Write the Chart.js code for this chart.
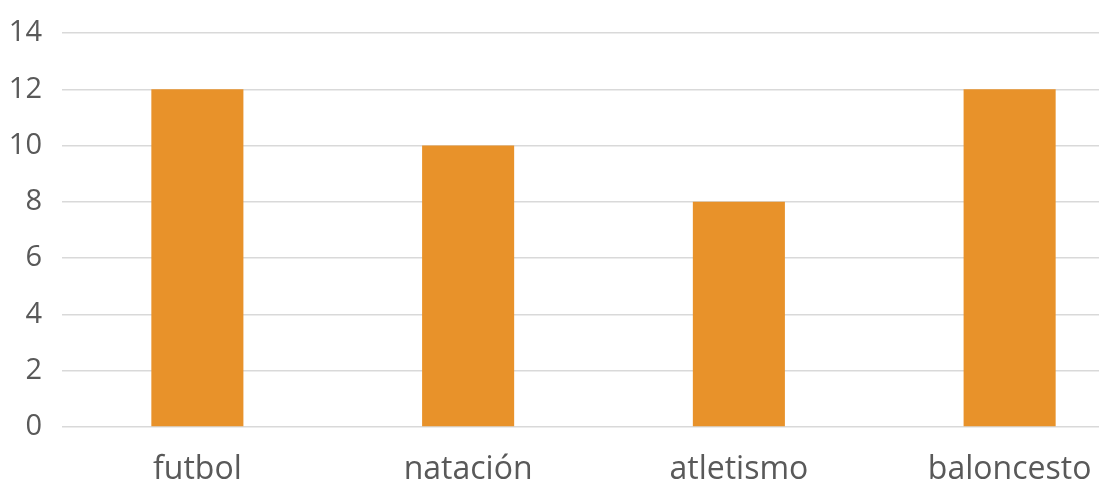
<!DOCTYPE html>
<html>
<head>
<meta charset="utf-8">
<script src="https://cdn.jsdelivr.net/npm/chart.js@4/dist/chart.umd.min.js"></script>
<style>
  html, body { margin: 0; padding: 0; background: #fff; overflow: hidden; }
  #wrap { width: 1145px; height: 485px; }
</style>
</head>
<body>
<div id="wrap"><canvas id="chart"></canvas></div>
<script>
const categories = ['futbol', 'natación', 'atletismo', 'baloncesto'];
const values = [12, 10, 8, 12];
const yTicks = [0, 2, 4, 6, 8, 10, 12, 14];

const FONT = "'Open Sans', sans-serif";

new Chart(document.getElementById('chart').getContext('2d'), {
  type: 'bar',
  data: {
    labels: categories,
    datasets: [{
      data: values,
      backgroundColor: '#E8922A',
      borderWidth: 0,
      barPercentage: 0.34,
      categoryPercentage: 1
    }]
  },
  options: {
    responsive: true,
    maintainAspectRatio: false,
    animation: false,
    layout: { padding: { top: 33, right: 0, left: 0, bottom: 0 } },
    plugins: { legend: { display: false }, tooltip: { enabled: false } },
    scales: {
      x: {
        grid: { display: false },
        border: { display: false },
        ticks: { color: '#595959', font: { family: FONT, size: 32 }, padding: 16, maxRotation: 0 },
        afterFit: (s) => { s.height = 58; }
      },
      y: {
        min: yTicks[0],
        max: yTicks[yTicks.length - 1],
        afterBuildTicks: (s) => { s.ticks = yTicks.map(v => ({ value: v })); },
        grid: { color: '#D9D9D9', lineWidth: 1.5, drawTicks: false },
        border: { display: false },
        ticks: { color: '#595959', font: { family: FONT, size: 29 }, padding: 20 },
        afterFit: (s) => { s.width = 62; s.paddingTop = 0; s.paddingBottom = 0; }
      }
    }
  }
});
</script>
</body>
</html>
